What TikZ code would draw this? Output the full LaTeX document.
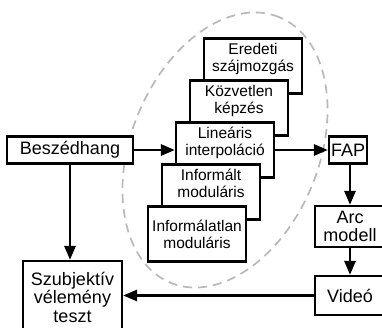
\documentclass[tikz,border=0pt]{standalone}
\usepackage{fontspec}
\setmainfont{Liberation Sans}
\usepackage{tikz}
\usetikzlibrary{arrows.meta}
\definecolor{RingGray}{RGB}{185,185,185}

\begin{document}
\begin{tikzpicture}[x=1pt,y=1pt]
	\tikzset{
		blk/.style={draw=black, line width=2.2pt, fill=white, align=center,
			inner sep=1.5pt, font=\fontsize{18}{18.5}\selectfont},
		stk/.style={blk, minimum width=98pt, minimum height=55pt,
			font=\fontsize{15.5}{17}\selectfont},
		hid/.style={text depth=18pt},
		arr/.style={draw=black, line width=2.8pt, -{Triangle[length=14pt,width=11pt]}},
		ring/.style={draw=RingGray, line width=1.7pt, dash pattern=on 9pt off 6pt}
	}
	\clip (0,0) rectangle (382,327);
	\fill[white] (0,0) rectangle (382,327);
	
	\draw[ring, shift={(225,177)}, rotate=67.8] (0,0) ellipse [x radius=143.5, y radius=94];
	
	\node[blk, minimum width=126pt, minimum height=27pt] (besz) at (70,177) {Besz\'edhang};
	\node[stk, hid] (ered) at (253,261) {Eredeti\\sz\'ajmozg\'as};
	\node[stk, hid] (kozv) at (239,219) {K\"ozvetlen\\k\'epz\'es};
	\node[stk, hid] (lin) at (225,177) {Line\'aris\\interpol\'aci\'o};
	\node[stk, hid] (infm) at (211,135) {Inform\'alt\\modul\'aris};
	\node[stk] (infl) at (197,93) {Inform\'alatlan\\modul\'aris};
	\node[blk, minimum width=38pt, minimum height=27pt] (fap) at (348,177) {FAP};
	\node[blk, minimum width=70pt, minimum height=41pt] (arc) at (350,100.5) {Arc\\modell};
	\node[blk, minimum width=70pt, minimum height=39pt] (vid) at (350,31.5) {Vide\'o};
	\node[blk, minimum width=99pt, minimum height=72pt] (szub) at (72.5,30) {Szubjekt\'iv\\v\'elem\'eny\\teszt};
	
	\draw[arr] (besz) -- (lin);
	\draw[arr] (lin) -- (fap);
	\draw[arr] (besz) -- (besz |- szub.north);
	\draw[arr] (fap.south -| arc) -- (arc);
	\draw[arr] (arc) -- (vid);
	\draw[arr] (vid) -- (szub.east |- vid);
\end{tikzpicture}
\end{document}
